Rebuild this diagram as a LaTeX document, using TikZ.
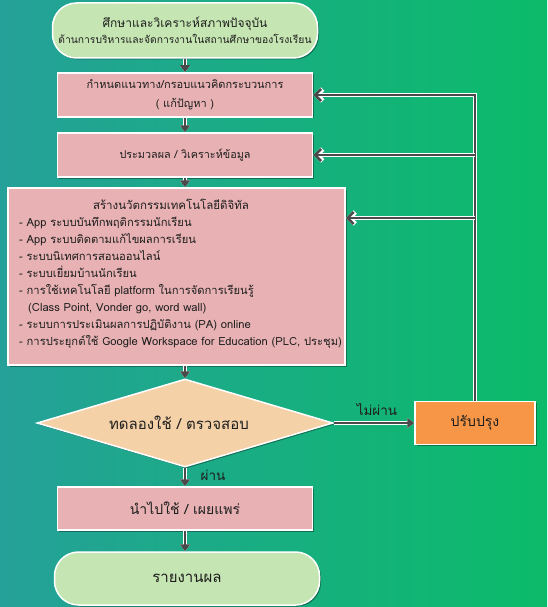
\documentclass[tikz,border=0pt]{standalone}
\usepackage{fontspec}
\newfontfamily\thaifont[Script=Thai]{Loma}
\usetikzlibrary{arrows.meta,shapes.geometric,shadows}
\definecolor{bgL}{HTML}{25A199}
\definecolor{bgR}{HTML}{0BBB69}
\definecolor{termf}{HTML}{C5E5B2}
\definecolor{pinkf}{HTML}{E8B2B4}
\definecolor{diaf}{HTML}{F4D1A7}
\definecolor{orangef}{HTML}{F79646}
\definecolor{lg}{HTML}{4A4A4A}
\definecolor{txt}{HTML}{1E1E1E}
\newcommand\fsz[2]{\thaifont\fontsize{#1}{#2}\selectfont}
\begin{document}
\begin{tikzpicture}[x=1pt,y=-1pt,
  every node/.style={font=\thaifont, text=txt},
  shad/.style={drop shadow={shadow xshift=1.5pt, shadow yshift=-1.5pt, opacity=0.35, fill=black}},
  term/.style={shad, draw=white, line width=1.5pt, fill=termf, rounded corners=24pt, align=center, inner sep=0pt},
  box/.style={shad, draw=white, line width=1.5pt, fill=pinkf, rectangle, align=center, inner sep=0pt},
  decide/.style={shad, draw=white, line width=1.5pt, fill=diaf, diamond, aspect=3.36, inner sep=0pt},
  fix/.style={shad, draw=white, line width=1.5pt, fill=orangef, rectangle, inner sep=0pt},
  conn/.style={draw=lg, line width=2.6pt, preaction={draw=white, line width=4.8pt}},
  down/.style={conn, -{Triangle[length=7pt,width=10pt]}},
  back/.style={conn, -{Straight Barb[length=6pt,width=12pt]}},
  lbl/.style={font=\fsz{13.5}{16}}
]
\shade[left color=bgL, right color=bgR] (0,0) rectangle (547,607);
\useasboundingbox (0,0) rectangle (547,607);

\node[term, minimum width=265pt, minimum height=55pt, font=\fsz{10.3}{16}] (start) at (185,30.5)
  {{\fontsize{12}{16}\selectfont ศึกษาและวิเคราะห์สภาพปัจจุบัน}\\ ด้านการบริหารและจัดการงานในสถานศึกษาของโรงเรียน};
\node[box, minimum width=255pt, minimum height=44pt, font=\fsz{11}{19}] (b1) at (185,95)
  {\raisebox{-2pt}{กำหนดแนวทาง/กรอบแนวคิดกระบวนการ}\\ \raisebox{-2pt}{( แก้ปัญหา )}};
\node[box, minimum width=255pt, minimum height=44pt, font=\fsz{10.8}{18}] (b2) at (185,155)
  {ประมวลผล / วิเคราะห์ข้อมูล};
\node[box, minimum width=337pt, minimum height=177pt] (b3) at (176.5,276.5) {};
\node[font=\fsz{11.5}{14}] (b3t) at (171,204) {สร้างนวัตกรรมเทคโนโลยีดิจิทัล};
\node[anchor=north west, align=left, inner sep=0pt, font=\fsz{11.2}{17.1}] (b3l) at (19,216.5)
  {- App ระบบบันทึกพฤติกรรมนักเรียน\\
   - App ระบบติดตามแก้ไขผลการเรียน\\
   - ระบบนิเทศการสอนออนไลน์\\
   - ระบบเยี่ยมบ้านนักเรียน\\
   - การใช้เทคโนโลยี platform ในการจัดการเรียนรู้\\
   \hspace*{9pt}(Class Point, Vonder go, word wall)\\
   - ระบบการประเมินผลการปฏิบัติงาน (PA) online\\
   - การประยุกต์ใช้ Google Workspace for Education (PLC, ประชุม)};
\node[decide, minimum width=296pt, minimum height=88pt, font=\fsz{15}{17}] (dia) at (185,423)
  {ทดลองใช้ / ตรวจสอบ\hspace*{12pt}};
\node[fix, minimum width=120pt, minimum height=43pt, font=\fsz{14}{16}] (up) at (475,423)
  {ปรับปรุง};
\node[box, minimum width=255pt, minimum height=43pt, font=\fsz{14}{16}] (b4) at (185,508.5)
  {นำไปใช้ / เผยแพร่};
\node[term, minimum width=265pt, minimum height=53pt, font=\fsz{15}{17}] (end) at (187,578.5)
  {รายงานผล};

\node[lbl] (nopass) at (377,409) {ไม่ผ่าน};
\node[lbl] (pass) at (213,475) {ผ่าน};

\draw[down] (start) -- (b1);
\draw[down] (b1) -- (b2);
\draw[down] (b2.south) -- (b2.south |- b3.north);
\draw[down] (dia.north |- b3.south) -- (dia.north);
\draw[down] (dia.east) -- (up.west);
\draw[down] (dia.south) -- (b4.north);
\draw[down] (b4.south) -- (end.north -| b4.south);

\draw[back] (up.north) -- (up.north |- b1.east) -- (b1.east);
\draw[back] (up.north |- b2.east) -- (b2.east);
\draw[back] (up.north |- 0,218) -- (b3.east |- 0,218);
\end{tikzpicture}
\end{document}
